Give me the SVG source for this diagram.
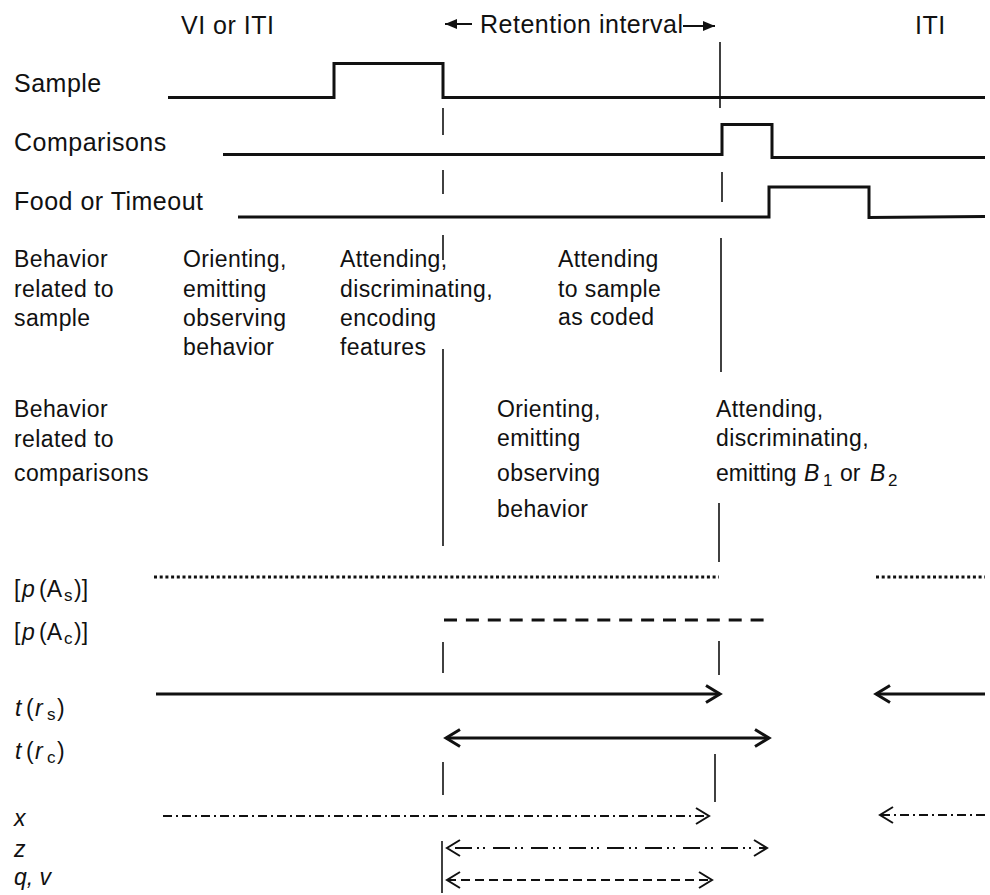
<svg xmlns="http://www.w3.org/2000/svg" width="990" height="895" viewBox="0 0 990 895">
<defs>
<style>
text{font-family:"Liberation Sans",Arial,sans-serif;fill:#111;}
.t{font-size:25px;letter-spacing:0.5px;}
.b{font-size:23px;letter-spacing:0.4px;}
.l{font-size:23px;}
.sub{font-size:17px;}
.i{font-style:italic;}
.wave{fill:none;stroke:#111;stroke-width:3;stroke-linejoin:miter;}
.thin{fill:none;stroke:#111;stroke-width:1.6;}
.thick{fill:none;stroke:#111;stroke-width:3;}
.tl{fill:none;stroke:#111;stroke-width:2;}
</style>
<marker id="fa" viewBox="-12 -6 14 12" refX="0" refY="0" markerWidth="14" markerHeight="12" markerUnits="userSpaceOnUse" orient="auto-start-reverse">
<path d="M-12,-5 L0,0 L-12,5 Z" fill="#111"/>
</marker>
<marker id="ch" viewBox="-18 -11 21 22" refX="0" refY="0" markerWidth="21" markerHeight="22" markerUnits="userSpaceOnUse" orient="auto-start-reverse">
<path d="M-14,-8.5 L0,0 L-14,8.5" fill="none" stroke="#111" stroke-width="3"/>
</marker>
<marker id="chs" viewBox="-18 -11 21 22" refX="0" refY="0" markerWidth="21" markerHeight="22" markerUnits="userSpaceOnUse" orient="auto-start-reverse">
<path d="M-13,-8 L0,0 L-13,8" fill="none" stroke="#111" stroke-width="2"/>
</marker>
</defs>
<rect width="990" height="895" fill="#fff"/>

<g id="top-labels">
<text class="t" x="181" y="34">VI or ITI</text>
<text class="t" x="480" y="33">Retention interval</text>
<text class="t" x="915" y="34">ITI</text>
</g>

<g id="row-labels">
<text class="t" x="14" y="92">Sample</text>
<text class="t" x="14" y="151">Comparisons</text>
<text class="t" x="14" y="210">Food or Timeout</text>
</g>

<g id="behavior-sample">
<text class="b" x="14" y="267">Behavior</text>
<text class="b" x="14" y="297">related to</text>
<text class="b" x="14" y="326">sample</text>
<text class="b" x="183" y="267">Orienting,</text>
<text class="b" x="183" y="297">emitting</text>
<text class="b" x="183" y="326">observing</text>
<text class="b" x="183" y="355">behavior</text>
<text class="b" x="340" y="267">Attending,</text>
<text class="b" x="340" y="297">discriminating,</text>
<text class="b" x="340" y="326">encoding</text>
<text class="b" x="340" y="355">features</text>
<text class="b" x="558" y="267">Attending</text>
<text class="b" x="558" y="297">to sample</text>
<text class="b" x="558" y="325">as coded</text>
</g>

<g id="behavior-comparisons">
<text class="b" x="14" y="417">Behavior</text>
<text class="b" x="14" y="447">related to</text>
<text class="b" x="14" y="481">comparisons</text>
<text class="b" x="497" y="417">Orienting,</text>
<text class="b" x="497" y="446">emitting</text>
<text class="b" x="497" y="481">observing</text>
<text class="b" x="497" y="517">behavior</text>
<text class="b" x="716" y="417">Attending,</text>
<text class="b" x="716" y="446">discriminating,</text>
<text class="b" x="716" y="481" style="letter-spacing:0">emitting<tspan class="i" x="804">B</tspan><tspan class="sub" x="823" dy="5">1</tspan><tspan x="840" dy="-5">or</tspan><tspan class="i" x="870">B</tspan><tspan class="sub" x="888" dy="5">2</tspan></text>
</g>

<g id="var-labels">
<text class="l" x="14" y="597">[<tspan class="i" x="22">p</tspan><tspan x="39">(A</tspan><tspan class="sub" x="64" dy="4">s</tspan><tspan x="74" dy="-4">)]</tspan></text>
<text class="l" x="14" y="640">[<tspan class="i" x="22">p</tspan><tspan x="39">(A</tspan><tspan class="sub" x="64" dy="4">c</tspan><tspan x="74" dy="-4">)]</tspan></text>
<text class="l" x="15" y="716"><tspan class="i">t</tspan><tspan x="26">(</tspan><tspan class="i" x="35">r</tspan><tspan class="sub" x="47" dy="4">s</tspan><tspan x="57" dy="-4">)</tspan></text>
<text class="l" x="15" y="759"><tspan class="i">t</tspan><tspan x="26">(</tspan><tspan class="i" x="35">r</tspan><tspan class="sub" x="47" dy="4">c</tspan><tspan x="57" dy="-4">)</tspan></text>
<text class="l i" x="14" y="826">x</text>
<text class="l i" x="14" y="857">z</text>
<text class="l i" x="14" y="885">q, v</text>
</g>

<g id="connectors">
<line class="tl" x1="472" y1="24" x2="445" y2="24" marker-end="url(#fa)"/>
<line class="tl" x1="683" y1="26" x2="715" y2="26" marker-end="url(#fa)"/>
<polyline class="wave" points="168,97.5 334,97.5 334,63.5 443,63.5 443,97.5 985,97.5"/>
<polyline class="wave" points="223,154.5 722,154.5 722,124.5 772,124.5 772,157.5 985,157.5"/>
<polyline class="wave" points="238,217 769,217 769,187 869,187 869,217.5 985,216.5"/>
<line class="thin" x1="443" y1="108" x2="443" y2="135"/>
<line class="thin" x1="443" y1="170" x2="443" y2="194"/>
<line class="thin" x1="443" y1="235" x2="443" y2="260"/>
<line class="thin" x1="443" y1="349" x2="443" y2="546"/>
<line class="thin" x1="443" y1="642" x2="443" y2="673"/>
<line class="thin" x1="443" y1="762" x2="443" y2="795"/>
<line class="thin" x1="442" y1="841" x2="442" y2="893"/>
<line class="thin" x1="720" y1="42" x2="720" y2="108"/>
<line class="thin" x1="722" y1="172" x2="722" y2="202"/>
<line class="thin" x1="721" y1="238" x2="721" y2="372"/>
<line class="thin" x1="719" y1="503" x2="719" y2="562"/>
<line class="thin" x1="719" y1="641" x2="719" y2="675"/>
<line class="thin" x1="715" y1="754" x2="715" y2="802"/>
<line x1="154" y1="577" x2="719" y2="577" stroke="#111" stroke-width="3" stroke-dasharray="3 2.7"/>
<line x1="876" y1="577" x2="985" y2="577" stroke="#111" stroke-width="3" stroke-dasharray="3 2.7"/>
<line x1="444" y1="620" x2="772" y2="620" stroke="#111" stroke-width="3" stroke-dasharray="13 8.9"/>
<line class="thick" x1="156" y1="694" x2="720" y2="694" marker-end="url(#ch)"/>
<line class="thick" x1="985" y1="694" x2="876" y2="694" marker-end="url(#ch)"/>
<line class="thick" x1="446" y1="738" x2="769" y2="738" marker-start="url(#ch)" marker-end="url(#ch)"/>
<line class="tl" x1="163" y1="816" x2="709" y2="816" stroke-dasharray="9 4 2 4" marker-end="url(#chs)"/>
<line class="tl" x1="985" y1="815" x2="880" y2="815" stroke-dasharray="9 4 2 4" marker-end="url(#chs)"/>
<line class="tl" x1="447" y1="848" x2="767" y2="848" stroke-dasharray="0 8 17 5 2 4 2 0" marker-start="url(#chs)" marker-end="url(#chs)"/>
<line class="tl" x1="447" y1="880" x2="712" y2="880" stroke-dasharray="9 5" marker-start="url(#chs)" marker-end="url(#chs)"/>
</g>
</svg>
